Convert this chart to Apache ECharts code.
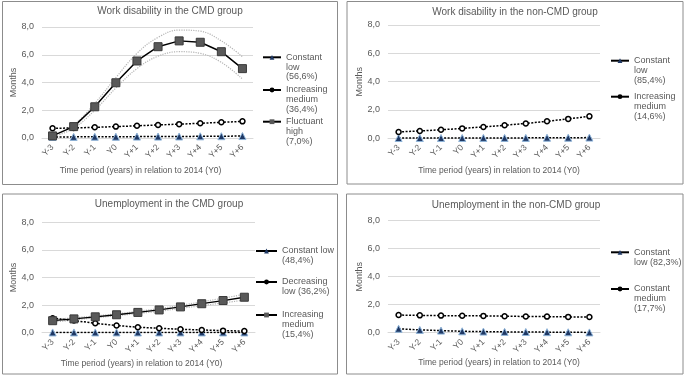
<!DOCTYPE html>
<html>
<head>
<meta charset="utf-8">
<script src="https://cdn.jsdelivr.net/npm/echarts@6/dist/echarts.min.js"></script>
<style>
  html, body { margin: 0; padding: 0; background: #fff; }
  #main { width: 685px; height: 380px; }
</style>
</head>
<body>
<div id="main"></div>
<script>
// categories
var years = ['Y-3', 'Y-2', 'Y-1', 'Y0', 'Y+1', 'Y+2', 'Y+3', 'Y+4', 'Y+5', 'Y+6'];

// work disability, CMD group
var wdCmdLow = [0.08, 0.08, 0.09, 0.09, 0.1, 0.1, 0.11, 0.12, 0.13, 0.14];
var wdCmdMed = [0.7, 0.72, 0.77, 0.82, 0.88, 0.94, 1.0, 1.06, 1.13, 1.2];
var wdCmdHigh = [0.15, 0.82, 2.25, 3.98, 5.55, 6.58, 7.0, 6.9, 6.22, 5.0];
var wdCmdHighUp = [0.22, 0.95, 2.5, 4.35, 6.1, 7.25, 7.78, 7.7, 7.0, 5.86];
var wdCmdHighLo = [0.08, 0.7, 2.0, 3.6, 5.0, 5.9, 6.22, 6.1, 5.45, 4.25];

// work disability, non-CMD group
var wdNonLow = [0.02, 0.02, 0.02, 0.02, 0.03, 0.03, 0.03, 0.04, 0.04, 0.05];
var wdNonMed = [0.45, 0.52, 0.6, 0.7, 0.8, 0.92, 1.05, 1.2, 1.37, 1.55];

// unemployment, CMD group
var unCmdLow = [0.02, 0.02, 0.02, 0.02, 0.02, 0.02, 0.02, 0.02, 0.02, 0.02];
var unCmdDec = [1.05, 0.88, 0.68, 0.52, 0.4, 0.32, 0.25, 0.2, 0.15, 0.12];
var unCmdInc = [0.87, 1.0, 1.15, 1.3, 1.47, 1.65, 1.87, 2.1, 2.33, 2.57];
var unCmdIncUp = [0.97, 1.08, 1.22, 1.37, 1.55, 1.75, 1.98, 2.24, 2.5, 2.78];
var unCmdIncLo = [0.77, 0.92, 1.08, 1.23, 1.39, 1.55, 1.76, 1.96, 2.16, 2.36];

// unemployment, non-CMD group
var unNonLow = [0.28, 0.2, 0.15, 0.1, 0.08, 0.06, 0.05, 0.04, 0.03, 0.02];
var unNonMed = [1.26, 1.24, 1.22, 1.21, 1.2, 1.18, 1.16, 1.15, 1.13, 1.12];

var grey = '#595959';
var font = 'Liberation Sans, Arial, sans-serif';
var dots = [2, 1.5];

var kinds = {
  low: {
    symbol: 'triangle', symbolSize: 7,
    itemStyle: { color: '#1f3864', borderColor: '#8fb4d9', borderWidth: 1 },
    lineStyle: { color: '#000', width: 1.5, type: dots }
  },
  med: {
    symbol: 'circle', symbolSize: 5,
    itemStyle: { color: '#fff', borderColor: '#000', borderWidth: 1.5 },
    lineStyle: { color: '#000', width: 1.5, type: dots }
  },
  high: {
    symbol: 'rect', symbolSize: 8,
    itemStyle: { color: '#595959', borderColor: '#3a3a3a', borderWidth: 1 },
    lineStyle: { color: '#000', width: 1.5, type: 'solid' }
  }
};

var panels = [
  { title: 'Work disability in the CMD group', cx: 170, ty: 6,
    grid: { left: 42, top: 27, width: 211, height: 111 }, nameGap: 28, namePad: [0, 14, 0, 0], monthsGap: 22 },
  { title: 'Work disability in the non-CMD group', cx: 515, ty: 7,
    grid: { left: 388, top: 25, width: 212, height: 113.3 }, nameGap: 28, namePad: [0, 0, 0, 10], monthsGap: 20 },
  { title: 'Unemployment in the CMD group', cx: 169, ty: 199,
    grid: { left: 42, top: 222.3, width: 213, height: 110.4 }, nameGap: 26.5, namePad: [0, 14, 0, 0], monthsGap: 22 },
  { title: 'Unemployment in the non-CMD group', cx: 516, ty: 200,
    grid: { left: 388, top: 220.7, width: 212, height: 112 }, nameGap: 25.5, namePad: [0, 0, 0, 10], monthsGap: 20 }
];

var lines = [
  { id: 'a1', p: 0, data: wdCmdLow, kind: 'low', label: 'Constant\nlow\n(56,6%)', lx: 262, ly: 32.8, w: 18 },
  { id: 'a2', p: 0, data: wdCmdMed, kind: 'med', label: 'Increasing\nmedium\n(36,4%)', lx: 262, ly: 65.5, w: 18 },
  { id: 'a3', p: 0, data: wdCmdHigh, kind: 'high', label: 'Fluctuant\nhigh\n(7,0%)', lx: 262, ly: 97.2, w: 18 },
  { id: 'b1', p: 1, data: wdNonLow, kind: 'low', label: 'Constant\nlow\n(85,4%)', lx: 610, ly: 36.2, w: 18 },
  { id: 'b2', p: 1, data: wdNonMed, kind: 'med', label: 'Increasing\nmedium\n(14,6%)', lx: 610, ly: 72.2, w: 18 },
  { id: 'c1', p: 2, data: unCmdLow, kind: 'low', label: 'Constant low\n(48,4%)', lx: 255, ly: 236.3, w: 21 },
  { id: 'c2', p: 2, data: unCmdDec, kind: 'med', label: 'Decreasing\nlow (36,2%)', lx: 255, ly: 267.3, w: 21 },
  { id: 'c3', p: 2, data: unCmdInc, kind: 'high', label: 'Increasing\nmedium\n(15,4%)', lx: 255, ly: 290.5, w: 21 },
  { id: 'd1', p: 3, data: unNonLow, kind: 'low', label: 'Constant\nlow (82,3%)', lx: 610, ly: 237.6, w: 18 },
  { id: 'd2', p: 3, data: unNonMed, kind: 'med', label: 'Constant\nmedium\n(17,7%)', lx: 610, ly: 264.5, w: 18 }
];

var bands = [
  { p: 0, data: wdCmdHighUp }, { p: 0, data: wdCmdHighLo },
  { p: 2, data: unCmdIncUp }, { p: 2, data: unCmdIncLo }
];

var option = {
  animation: false,
  textStyle: { fontFamily: font },
  title: [], grid: [], xAxis: [], yAxis: [], series: [], legend: [],
  graphic: []
};

panels.forEach(function (p, i) {
  option.title.push({
    text: p.title, left: p.cx, top: p.ty, textAlign: 'center', padding: 0,
    textStyle: { fontSize: 10, fontWeight: 'normal', color: grey, fontFamily: font }
  });
  option.grid.push(p.grid);
  option.xAxis.push({
    type: 'category', gridIndex: i, data: years, boundaryGap: true,
    axisTick: { show: false },
    axisLine: { lineStyle: { color: '#d9d9d9' } },
    axisLabel: { rotate: 45, interval: 0, fontSize: 8.5, color: grey, margin: 8 },
    name: 'Time period (years) in relation to 2014 (Y0)',
    nameLocation: 'middle', nameGap: p.nameGap,
    nameTextStyle: { fontSize: 8.5, color: grey, padding: p.namePad }
  });
  option.yAxis.push({
    type: 'value', gridIndex: i, min: 0, max: 8, interval: 2,
    axisLine: { show: false }, axisTick: { show: false },
    splitLine: { lineStyle: { color: '#d9d9d9' } },
    axisLabel: {
      fontSize: 9, color: grey, margin: 8,
      formatter: function (v) { return v.toFixed(1).replace('.', ','); }
    },
    name: 'Months', nameLocation: 'middle', nameRotate: 90, nameGap: p.monthsGap,
    nameTextStyle: { fontSize: 9, color: grey }
  });
});

bands.forEach(function (b, i) {
  option.series.push({
    name: 'ci' + i, type: 'line', xAxisIndex: b.p, yAxisIndex: b.p,
    data: b.data, smooth: 0.4, symbol: 'none', silent: true, z: 1,
    lineStyle: { color: '#b5b5b5', width: 1.2, type: 'dotted' }
  });
});

lines.forEach(function (s) {
  var k = kinds[s.kind];
  var lineStyle = k.lineStyle;
  if (s.id === 'c3') lineStyle = { color: '#000', width: 1.3, type: 'solid' };
  option.series.push({
    name: s.id, type: 'line', xAxisIndex: s.p, yAxisIndex: s.p,
    data: s.data, symbol: k.symbol, symbolSize: k.symbolSize,
    itemStyle: k.itemStyle, lineStyle: lineStyle, z: 3
  });
  var nLines = s.label.split('\n').length;
  var blank = nLines - 1;
  var legendData = { name: s.id, itemStyle: { borderWidth: 0 } };
  if (s.kind === 'med') legendData.itemStyle = { color: '#000', borderWidth: 0 };
  option.legend.push({
    left: s.lx, top: s.ly, padding: 0, orient: 'vertical',
    itemWidth: s.w, itemHeight: 6, selectedMode: false,
    data: [legendData],
    lineStyle: { color: '#000', width: 2, type: 'solid' },
    formatter: (function (label, nb) {
      return function () { return new Array(nb + 1).join('\n') + label; };
    })(s.label, blank),
    textStyle: { fontSize: 9, color: grey, lineHeight: 9.8, fontFamily: font }
  });
});

// panel frames
[[2.5, 1.5, 335, 183], [347, 1.5, 336, 182.5], [2.5, 194, 335, 180], [346.5, 194, 336.5, 180]].forEach(function (r) {
  option.graphic.push({
    type: 'rect', silent: true, z: -1,
    shape: { x: r[0], y: r[1], width: r[2], height: r[3] },
    style: { fill: 'none', stroke: '#8c8c8c', lineWidth: 1 }
  });
});

var chart = echarts.init(document.getElementById('main'));
chart.setOption(option);
</script>
</body>
</html>
